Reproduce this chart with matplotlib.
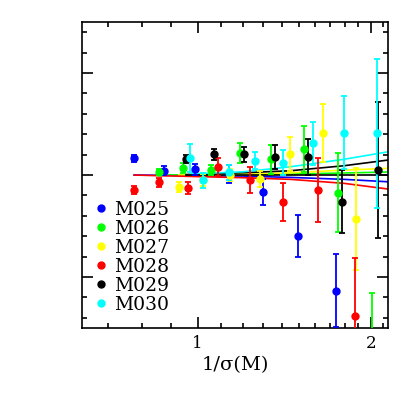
import numpy as np
import matplotlib
matplotlib.use('Agg')
import matplotlib.pyplot as plt
from matplotlib.ticker import FixedLocator, FixedFormatter, MultipleLocator
from matplotlib.lines import Line2D

# puntos: 1/sigma(M), residuo, error
names = ['M025', 'M026', 'M027', 'M028', 'M029', 'M030']
colors = ['#0000ff', '#00ff00', '#ffff00', '#ff0000', '#000000', '#00ffff']

x_m025 = [0.776, 0.876, 0.991, 1.132, 1.297, 1.496, 1.736]
y_m025 = [0.164, 0.042, 0.056, 0.01, -0.164, -0.595, -1.134]
e_m025 = [0.034, 0.044, 0.052, 0.09, 0.130, 0.206, 0.360]

x_m026 = [0.856, 0.943, 1.055, 1.186, 1.341, 1.528, 1.750, 2.009]
y_m026 = [0.026, 0.072, 0.049, 0.213, 0.157, 0.252, -0.174, -1.77]
e_m026 = [0.03, 0.05, 0.05, 0.098, 0.142, 0.225, 0.389, 0.61]

x_m027 = [0.927, 1.022, 1.14, 1.281, 1.448, 1.648, 1.884]
y_m027 = [-0.115, -0.05, 0.0, -0.04, 0.203, 0.409, -0.431]
e_m027 = [0.05, 0.06, 0.06, 0.081, 0.167, 0.284, 0.50]

x_m028 = [0.776, 0.856, 0.961, 1.085, 1.231, 1.407, 1.616, 1.876]
y_m028 = [-0.147, -0.072, -0.125, 0.075, -0.049, -0.265, -0.147, -1.382]
e_m028 = [0.039, 0.044, 0.059, 0.088, 0.127, 0.186, 0.314, 0.569]

x_m029 = [0.956, 1.069, 1.202, 1.364, 1.555, 1.781, 2.054]
y_m029 = [0.157, 0.206, 0.203, 0.174, 0.179, -0.262, 0.049]
e_m029 = [0.039, 0.054, 0.074, 0.118, 0.176, 0.311, 0.664]

x_m030 = [0.971, 1.022, 1.132, 1.259, 1.407, 1.584, 1.793, 2.049]
y_m030 = [0.170, -0.049, 0.026, 0.140, 0.121, 0.311, 0.415, 0.409]
e_m030 = [0.137, 0.074, 0.074, 0.083, 0.123, 0.213, 0.36, 0.73]

fit_x_m025 = [0.776, 1.2, 1.448, 1.793, 2.14]
fit_y_m025 = [0.0, -0.01, -0.023, -0.042, -0.066]
fit_x_m026 = [0.856, 1.2, 1.448, 1.793, 2.14]
fit_y_m026 = [0.0, 0.005, 0.01, 0.02, 0.03]
fit_x_m027 = [0.927, 1.2, 1.448, 1.793, 2.14]
fit_y_m027 = [0.0, 0.01, 0.022, 0.048, 0.066]
fit_x_m028 = [0.776, 1.2, 1.448, 1.793, 2.14]
fit_y_m028 = [0.0, -0.026, -0.042, -0.081, -0.137]
fit_x_m029 = [0.956, 1.2, 1.448, 1.793, 2.14]
fit_y_m029 = [0.005, 0.023, 0.042, 0.091, 0.147]
fit_x_m030 = [0.971, 1.2, 1.448, 1.793, 2.14]
fit_y_m030 = [0.01, 0.032, 0.081, 0.154, 0.228]
zero_x = [0.956, 2.14]
zero_y = [0.0, 0.0]

xtick_vals = [1, 2]
xtick_labels = ['1', '2']

data = [(x_m025, y_m025, e_m025, fit_x_m025, fit_y_m025),
        (x_m026, y_m026, e_m026, fit_x_m026, fit_y_m026),
        (x_m027, y_m027, e_m027, fit_x_m027, fit_y_m027),
        (x_m028, y_m028, e_m028, fit_x_m028, fit_y_m028),
        (x_m029, y_m029, e_m029, fit_x_m029, fit_y_m029),
        (x_m030, y_m030, e_m030, fit_x_m030, fit_y_m030)]

plt.rcParams['font.family'] = ['DejaVu Serif']

fig = plt.figure(figsize=(4.09, 4.09), dpi=100)
ax = fig.add_axes([0.2005, 0.198, 0.748, 0.748])

for (x, y, e, fx, fy), c in zip(data, colors):
    ax.plot(fx, fy, '-', color=c, lw=1.2, zorder=2)
ax.plot(zero_x, zero_y, '-', color='black', lw=1.2, zorder=2)

for (x, y, e, fx, fy), c in zip(data, colors):
    ax.errorbar(x, y, yerr=e, fmt='o', color=c, ms=5, capsize=2.4,
                elinewidth=1.3, capthick=1.3, zorder=3)

ax.set_xscale('log')
ax.set_xlim(0.63, 2.14)
ax.set_ylim(-1.5, 1.5)

minors = [0.7, 0.8, 0.9, 1.1, 1.2, 1.3, 1.4, 1.5, 1.6, 1.7, 1.8, 1.9, 2.1]
ax.xaxis.set_major_locator(FixedLocator(xtick_vals))
ax.xaxis.set_major_formatter(FixedFormatter(xtick_labels))
ax.xaxis.set_minor_locator(FixedLocator(minors))
ax.xaxis.set_minor_formatter(FixedFormatter([''] * len(minors)))
ax.yaxis.set_major_locator(MultipleLocator(1.0))
ax.yaxis.set_minor_locator(MultipleLocator(0.2))
ax.set_yticklabels([])

ax.tick_params(which='both', direction='in', top=True, right=True, width=1.2)
ax.tick_params(which='major', length=8, labelsize=12, pad=5)
ax.tick_params(which='minor', length=3.8)
for s in ax.spines.values():
    s.set_linewidth(1.2)

ax.set_xlabel('1/σ(M)', fontsize=14, labelpad=3)

handles = [Line2D([], [], ls='none', marker='o', color=c, ms=5) for c in colors]
ax.legend(handles, names, loc='upper left', bbox_to_anchor=(0.046, 0.415),
          frameon=False, fontsize=13.5, handlelength=0.5, handletextpad=0.45,
          labelspacing=0.05, borderpad=0, borderaxespad=0)

plt.savefig('out.png', dpi=100)
